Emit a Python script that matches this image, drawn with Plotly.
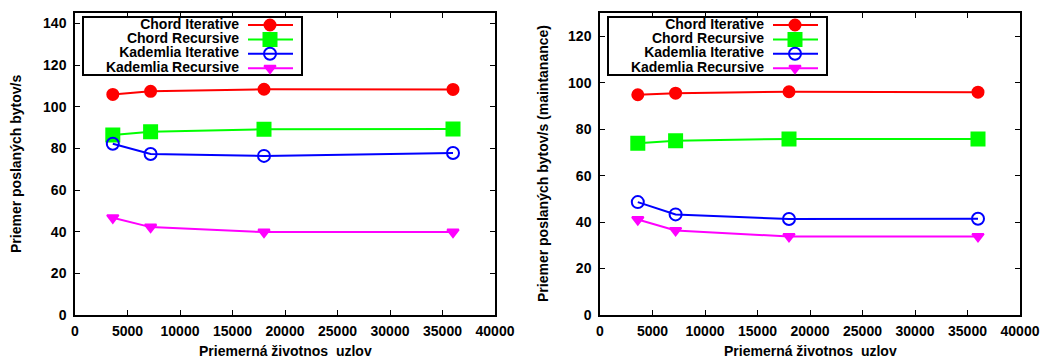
import plotly.graph_objects as go

x_vals = [3600, 7200, 18000, 36000]
series_names = ["Chord Iterative", "Chord Recursive", "Kademlia Iterative", "Kademlia Recursive"]

left_chord_iter = [105.9, 107.4, 108.4, 108.3]
left_chord_rec = [86.4, 88.0, 89.2, 89.3]
left_kad_iter = [82.2, 77.3, 76.4, 77.8]
left_kad_rec = [46.7, 42.2, 39.8, 39.8]

right_chord_iter = [94.8, 95.5, 96.1, 95.9]
right_chord_rec = [73.9, 75.0, 75.8, 75.8]
right_kad_iter = [48.6, 43.3, 41.3, 41.4]
right_kad_rec = [41.1, 36.4, 33.8, 33.8]

x_ticks = [0, 5000, 10000, 15000, 20000, 25000, 30000, 35000, 40000]
x_tick_text = ["<b>%d</b>" % v for v in x_ticks]
left_y_ticks = [0, 20, 40, 60, 80, 100, 120, 140]
right_y_ticks = [0, 20, 40, 60, 80, 100, 120]

x_title = "Priemerná životnos  uzlov"
left_y_title = "Priemer poslaných bytov/s"
right_y_title = "Priemer poslaných bytov/s (maintanance)"

colors = ["#ff0000", "#00ff00", "#0000ff", "#ff00ff"]
symbols = ["circle", "square", "circle-open", "triangle-down"]
sizes = [11, 13, 12, 10]

FONT = "Liberation Sans, Arial, sans-serif"
W, H = 1043, 358

fig = go.Figure()

left_data = [left_chord_iter, left_chord_rec, left_kad_iter, left_kad_rec]
right_data = [right_chord_iter, right_chord_rec, right_kad_iter, right_kad_rec]

for xa, ya, data in (("x", "y", left_data), ("x2", "y2", right_data)):
    for i, (name, ys) in enumerate(zip(series_names, data)):
        fig.add_trace(go.Scatter(
            x=x_vals, y=ys, name=name, mode="lines+markers",
            line=dict(color=colors[i], width=2),
            marker=dict(symbol=symbols[i], size=sizes[i], color=colors[i],
                        line=dict(color=colors[i], width=2)),
            xaxis=xa, yaxis=ya, showlegend=False,
        ))

PLOT_TOP, PLOT_BOTTOM = 13, 315
ydom = [1 - PLOT_BOTTOM / H, 1 - PLOT_TOP / H]
left_xdom = [75 / W, 495 / W]
right_xdom = [600 / W, 1020 / W]

def xaxis(domain, anchor):
    return dict(
        domain=domain, anchor=anchor, range=[0, 40000], automargin=False,
        tickvals=x_ticks, ticktext=x_tick_text,
        ticks="inside", ticklen=5, tickwidth=1, tickcolor="black",
        showline=True, linecolor="black", linewidth=1.5, mirror="ticks",
        showgrid=False, zeroline=False, ticklabelstandoff=2,
        tickfont=dict(family=FONT, size=14, color="black"),
    )

def yaxis(anchor, ymax, tickvals):
    return dict(
        domain=ydom, anchor=anchor, range=[0, ymax], automargin=False,
        tickvals=tickvals, ticktext=["<b>%d</b>" % v for v in tickvals],
        ticks="inside", ticklen=5, tickwidth=1, tickcolor="black",
        showline=True, linecolor="black", linewidth=1.5, mirror="ticks",
        showgrid=False, zeroline=False, ticklabelstandoff=4,
        tickfont=dict(family=FONT, size=14, color="black"),
    )

annotations = []
title_font = dict(family=FONT, size=14, color="black")
plot_mid_y = 1 - (PLOT_TOP + PLOT_BOTTOM) / 2 / H
for dom, ytitle, ytitle_x in ((left_xdom, left_y_title, 16), (right_xdom, right_y_title, 543)):
    annotations.append(dict(
        text="<b>%s</b>" % x_title, xref="paper", yref="paper",
        x=(dom[0] + dom[1]) / 2, y=1 - 351 / H, xanchor="center", yanchor="middle",
        showarrow=False, font=title_font))
    annotations.append(dict(
        text="<b>%s</b>" % ytitle, xref="paper", yref="paper", textangle=-90,
        x=ytitle_x / W, y=plot_mid_y, xanchor="center", yanchor="middle",
        showarrow=False, font=title_font))

# Custom gnuplot-style legends (text right-aligned, sample on the right)
LEG_W, LEG_H = 219, 58
legend_lefts = [83, 608]
LEG_TOP = 17
ROW0, ROW_STEP = 8, 14.4
TEXT_RIGHT, LINE_X0, LINE_X1, MARK_X = 156, 165, 210, 187

shapes = []
legend_axes = {}
for k, left in enumerate(legend_lefts):
    xa_name = "x%d" % (k + 3)
    ya_name = "y%d" % (k + 3)
    legend_axes["xaxis%d" % (k + 3)] = dict(
        domain=[left / W, (left + LEG_W) / W], anchor=ya_name, range=[0, LEG_W],
        visible=False, fixedrange=True, automargin=False)
    legend_axes["yaxis%d" % (k + 3)] = dict(
        domain=[1 - (LEG_TOP + LEG_H) / H, 1 - LEG_TOP / H], anchor=xa_name,
        range=[LEG_H, 0], visible=False, fixedrange=True, automargin=False)
    shapes.append(dict(type="rect", xref="x%d domain" % (k + 3), yref="y%d domain" % (k + 3),
                       x0=0, x1=1, y0=0, y1=1, line=dict(color="black", width=2),
                       fillcolor="white", layer="below"))
    rows = [ROW0 + ROW_STEP * i for i in range(len(series_names))]
    fig.add_trace(go.Scatter(
        x=[TEXT_RIGHT] * len(series_names), y=rows, mode="text",
        text=["<b>%s</b>" % n for n in series_names], textposition="middle left",
        textfont=dict(family=FONT, size=14, color="black"),
        xaxis=xa_name, yaxis=ya_name, showlegend=False, hoverinfo="skip",
        cliponaxis=False))
    for i, ry in enumerate(rows):
        fig.add_trace(go.Scatter(
            x=[LINE_X0, LINE_X1], y=[ry, ry], mode="lines",
            line=dict(color=colors[i], width=2),
            xaxis=xa_name, yaxis=ya_name, showlegend=False, hoverinfo="skip"))
        fig.add_trace(go.Scatter(
            x=[MARK_X], y=[ry], mode="markers",
            marker=dict(symbol=symbols[i], size=sizes[i], color=colors[i],
                        line=dict(color=colors[i], width=2)),
            xaxis=xa_name, yaxis=ya_name, showlegend=False, hoverinfo="skip"))

fig.update_layout(
    width=W, height=H,
    margin=dict(l=0, r=0, t=0, b=0),
    paper_bgcolor="white", plot_bgcolor="rgba(0,0,0,0)",
    showlegend=False,
    xaxis=xaxis(left_xdom, "y"),
    yaxis=yaxis("x", 145, left_y_ticks),
    xaxis2=xaxis(right_xdom, "y2"),
    yaxis2=yaxis("x2", 130, right_y_ticks),
    annotations=annotations,
    shapes=shapes,
    **legend_axes,
)

fig.write_html("out.html")
